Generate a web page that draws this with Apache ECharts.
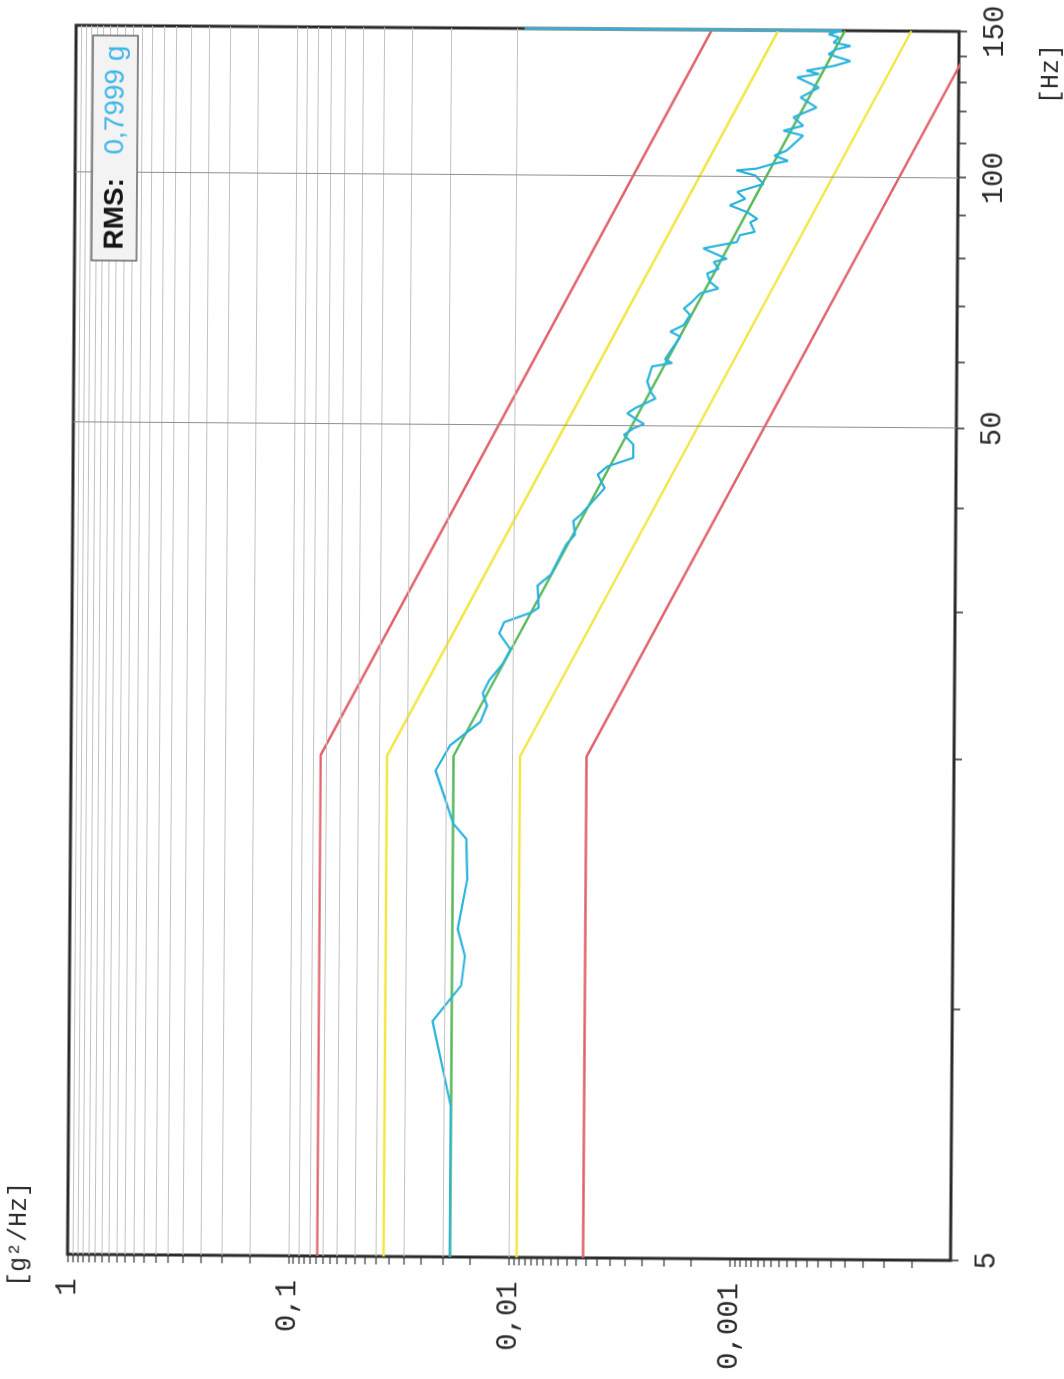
<!DOCTYPE html>
<html>
<head>
<meta charset="utf-8">
<script src="https://cdn.jsdelivr.net/npm/echarts@6/dist/echarts.min.js"></script>
<style>
html,body{margin:0;padding:0;background:#fff;width:1064px;height:1379px;overflow:hidden;}
#chart{position:absolute;width:1379px;height:1064px;left:-157.5px;top:157.5px;transform:rotate(-89.6deg);transform-origin:50% 50%;}
</style>
</head>
<body>
<div id="chart"></div>
<script>
// ---------- data ----------
const freqTicks = [5,10,20,30,40,50,60,70,80,90,100,110,120,130,140,150];
const freqLabels = [5,50,100,150];
const freqGrid = [50,100];
const psdLabels = [1,0.1,0.01,0.001];
const psdMantissas = [1.5,2,2.5,3,3.5,4,4.5,5,5.5,6,6.5,7,7.5,8,8.5,9,9.5];
const psdDecades = [0.0001,0.001,0.01,0.1];
const psdMajorGrid = [0.001,0.01,0.1];

const profileFreq = [5, 20, 150];
const nominal   = [0.0185, 0.0185, 0.000329];
const upper3dB  = [0.037, 0.037, 0.000658];
const lower3dB  = [0.00925, 0.00925, 0.0001645];
const upper6dB  = [0.074, 0.074, 0.001316];
const lower6dB  = [0.004625, 0.004625, 0.0000822];

const measFreq = [5,7.6,9.6,10.6,11.5,12.4,14.2,15.9,16.6,17.8,19.2,20.6,22.0,23.0,23.8,24.7,25.8,26.9,28.1,29.0,29.8,30.2,32.1,33.1,36.0,37.0,38.4,39.1,42.1,43.7,44.7,45.4,45.8,47.5,48.8,49.7,50.3,50.9,51.8,52.6,54.0,55.0,56.6,59.0,59.6,60.2,62.0,64.1,65.0,66.2,68.1,69.3,70.6,72.3,73.3,74.65,76.4,77.4,78.9,79.6,81.9,83.4,85.0,85.8,88.1,88.95,90.6,92.3,94.0,95.8,98.0,100.3,101.7,102.2,103.5,104.5,106.0,107.5,112.1,113.6,115.2,117.9,121.2,124.6,128.1,131.7,133.0,134.2,136.0,137.9,140.5,142.4,143.8,145.1,147.2,148.5,150,150];
const measPsd = [0.0186,0.0186,0.0226,0.0168,0.0162,0.0175,0.0159,0.0161,0.0185,0.0202,0.0223,0.0192,0.0140,0.0131,0.0137,0.0128,0.0112,0.0103,0.0116,0.0110,0.0083,0.0077,0.0078,0.0068,0.0058,0.0053,0.0054,0.0050,0.0039,0.0042,0.0038,0.0032,0.0029,0.0029,0.0032,0.0029,0.0026,0.0028,0.0031,0.00284,0.00231,0.00243,0.00252,0.00240,0.00195,0.0021,0.00195,0.00179,0.00199,0.00173,0.00162,0.00173,0.00159,0.00146,0.00121,0.00132,0.00136,0.00121,0.00127,0.00111,0.00142,0.00100,0.00097,0.00083,0.00087,0.00081,0.00090,0.00108,0.00092,0.00100,0.00076,0.00083,0.00101,0.00082,0.00070,0.00059,0.00068,0.00060,0.000505,0.00062,0.000505,0.00056,0.00044,0.00052,0.00043,0.00054,0.00043,0.00049,0.00037,0.00031,0.00039,0.00036,0.00031,0.00037,0.00035,0.00039,0.00034,0.0093];

const rmsLabel = 'RMS:';
const rmsValue = '0,7999 g';

// ---------- build ----------
const psdMinorGrid = [];
psdDecades.forEach(d => psdMantissas.forEach(m => psdMinorGrid.push(+(m*d).toPrecision(3))));
const psdTicks = psdMinorGrid.concat(psdMajorGrid, [1]);

const pairs = (xs, ys) => xs.map((x, i) => [x, ys[i]]);
const mono = 'Liberation Mono';
const txt = '#2b2b2b';

const limitLine = (name, ys, color) => ({
  name, type:'line', data:pairs(profileFreq, ys), showSymbol:false, symbol:'none',
  lineStyle:{color, width:2.4}, z:3, silent:true, clip:true
});

const chart = echarts.init(document.getElementById('chart'), null, {renderer:'canvas'});
chart.setOption({
  animation:false,
  backgroundColor:'#ffffff',
  grid:{left:122,right:28,top:71,bottom:110,show:true,borderColor:'#2a2a2a',borderWidth:3,backgroundColor:'transparent',containLabel:false,outerBoundsMode:'none'},
  xAxis:{
    type:'log', logBase:10, min:5, max:150,
    axisLine:{show:false}, splitLine:{show:false}, minorTick:{show:false}, minorSplitLine:{show:false},
    axisTick:{show:true, inside:false, length:8, lineStyle:{color:'#333', width:1.5}, customValues:freqTicks},
    axisLabel:{show:true, customValues:freqLabels, margin:22, fontFamily:mono, fontSize:29, color:txt, formatter:v => String(v)}
  },
  yAxis:{
    type:'log', logBase:10, min:0.0001, max:1,
    axisLine:{show:false}, splitLine:{show:false}, minorTick:{show:false}, minorSplitLine:{show:false},
    axisTick:{show:true, inside:false, length:8, lineStyle:{color:'#333', width:1.2}, customValues:psdTicks},
    axisLabel:{show:true, customValues:psdLabels, margin:24, fontFamily:mono, fontSize:29, color:txt, formatter:v => String(v).replace('.', ',')}
  },
  graphic:[
    {type:'rect', z:20, shape:{x:1116,y:88,width:225,height:45}, style:{fill:'#f3f3f3', stroke:'#666', lineWidth:1.5}},
    {type:'text', z:21, x:1127, y:111, style:{text:rmsLabel, fontFamily:'Liberation Sans', fontWeight:'bold', fontSize:28, fill:'#151515', align:'left', verticalAlign:'middle'}},
    {type:'text', z:21, x:1222, y:111, style:{text:rmsValue, fontFamily:'Liberation Sans', fontSize:28, fill:'#3db5e8', align:'left', verticalAlign:'middle'}},
    {type:'text', z:21, x:89, y:22, style:{text:'[g²/Hz]', fontFamily:mono, fontSize:25, fill:txt, align:'left', verticalAlign:'middle'}},
    {type:'text', z:21, x:1339, y:1046, style:{text:'[Hz]', fontFamily:mono, fontSize:25, fill:txt, align:'right', verticalAlign:'middle'}}
  ],
  series:[
    {
      name:'grid', type:'line', data:[], silent:true, z:1,
      markLine:{
        silent:true, animation:false, symbol:['none','none'], label:{show:false}, emphasis:{disabled:true},
        lineStyle:{color:'#c2c2c2', width:1, type:'solid'},
        data: psdMinorGrid.concat(psdMajorGrid).map(v => ({yAxis:v}))
          .concat(freqGrid.map(v => ({xAxis:v, lineStyle:{color:'#8f8f8f', width:1, type:'solid'}})))
      }
    },
    limitLine('+6 dB', upper6dB, '#e0626a'),
    limitLine('+3 dB', upper3dB, '#f2e640'),
    limitLine('Reference', nominal, '#58b85a'),
    limitLine('-3 dB', lower3dB, '#f2e640'),
    limitLine('-6 dB', lower6dB, '#e0626a'),
    {
      name:'Measured', type:'line', data:pairs(measFreq, measPsd), showSymbol:false, symbol:'none',
      lineStyle:{color:'#29b3dc', width:2.2}, z:4, silent:true, clip:true
    }
  ]
});
</script>
</body>
</html>
